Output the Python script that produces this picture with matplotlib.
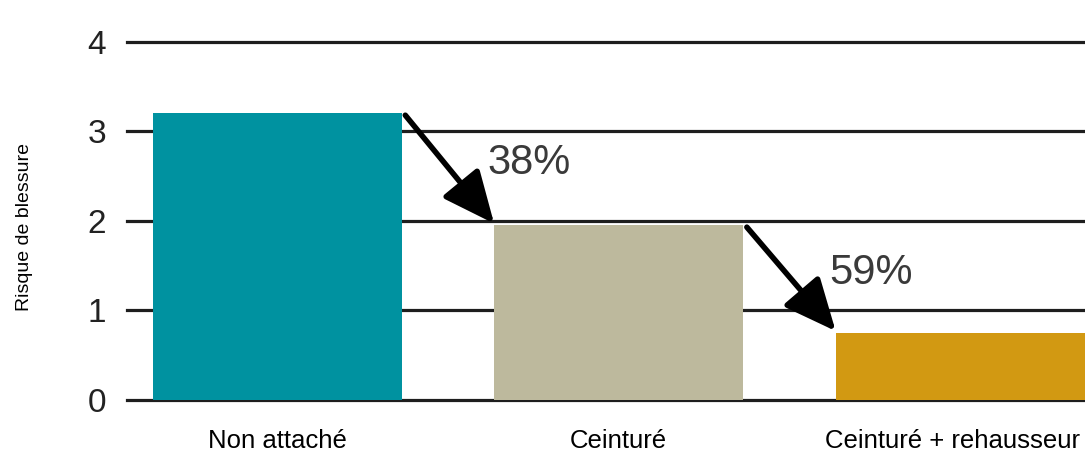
import numpy as np
import matplotlib
matplotlib.use("Agg")
import matplotlib.pyplot as plt
import matplotlib.transforms as mtransforms

plt.rcParams['font.family'] = ['Liberation Sans', 'DejaVu Sans']

# data
categories = ['Non attaché', 'Ceinturé', 'Ceinturé + rehausseur']
risk = [3.2, 1.95, 0.75]
reductions = ['38%', '59%']
colors = ['#0092A0', '#BDB99D', '#D29912']
yticks = [0, 1, 2, 3, 4]

fig = plt.figure(figsize=(10.85, 4.59), dpi=100)
ax = fig.add_axes([0.117, 0.1285, 0.883, 0.80])

x = np.arange(len(categories))
width = 0.73
ax.bar(x, risk, width=width, color=colors, zorder=3)

# horizontal rules
for t in yticks:
    ax.axhline(t, color='#1e1e1e', lw=2.3, zorder=2, clip_on=False)

# arrows between bars + percentage labels
for i, lab in enumerate(reductions):
    x0 = x[i] + width / 2 + 0.01
    x1 = x[i + 1] - width / 2
    ax.annotate('', xy=(x1, risk[i + 1] + 0.02), xytext=(x0, risk[i] - 0.02),
                arrowprops=dict(arrowstyle='-|>,head_length=0.8,head_width=0.36',
                                color='black', lw=4, mutation_scale=40,
                                shrinkA=0, shrinkB=0),
                zorder=4)
    ax.text(x[i] + 0.615, (risk[i] + risk[i + 1]) / 2 + 0.07, lab,
            fontsize=30, va='center', ha='left', color='#3a3a3a')

ax.set_xlim(-0.44, 2.365)
ax.set_ylim(0, 4.1)
ax.set_yticks(yticks)
ax.set_yticklabels([str(t) for t in yticks], fontsize=24, color='#222222')
ax.set_xticks(x)
ax.set_xticklabels(categories, fontsize=18.5)
ax.tick_params(axis='y', length=0, pad=15)
ax.tick_params(axis='x', length=0, pad=21)
ax.set_ylabel('Risque de blessure', fontsize=14)
ax.yaxis.set_label_coords(-0.098, 0.47)

# last label sits flush with the right edge
last = ax.get_xticklabels()[-1]
last.set_transform(last.get_transform() +
                   mtransforms.ScaledTranslation(-8 / 100, 0, fig.dpi_scale_trans))

for s in ax.spines.values():
    s.set_visible(False)

fig.savefig('out.png', dpi=100)
